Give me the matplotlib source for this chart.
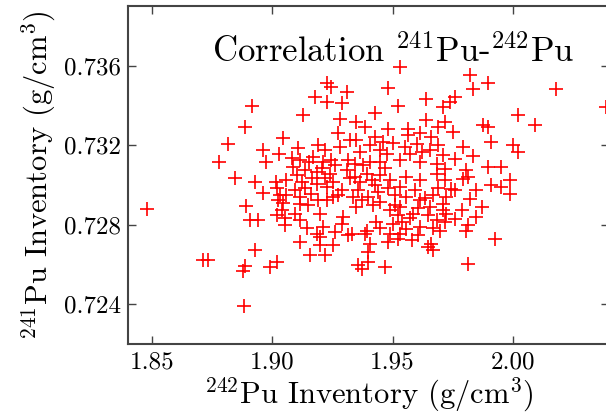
import numpy as np
import matplotlib
matplotlib.use("Agg")
import matplotlib.pyplot as plt
from matplotlib.ticker import FormatStrFormatter

# computer modern look for all text
plt.rcParams["font.family"] = "cmr10"
plt.rcParams["mathtext.fontset"] = "cm"

# sampled inventories (g/cm^3)
pu242 = [
    1.8478, 1.8710, 1.8734, 1.8928, 1.8879, 1.8886, 1.8990, 1.9018, 1.8882, 1.8817,
    1.8778, 1.8845, 1.8890, 1.8907, 1.8941, 1.8928, 1.8962, 1.8960, 1.8973, 1.9029,
    1.9045, 1.9015, 1.9018, 1.9032, 1.9023, 1.9044, 1.9039, 1.9018, 1.9052, 1.9052,
    1.8914, 1.8886,
    1.9533, 1.9226, 1.9246, 1.9177, 1.9309, 1.9226, 1.9288, 1.9482, 1.9523, 1.9426,
    1.9128, 1.9281, 1.9350, 1.9385, 1.9641, 1.9710, 1.9641, 1.9482, 1.9565, 1.9689,
    1.9613,
    1.9821, 1.9835, 1.9897, 2.0181, 1.9759, 1.9738, 2.0022, 2.0091, 1.9876, 1.9897,
    1.9717, 1.9752, 2.0386,
    1.9911, 2.0001, 2.0022, 1.9793, 1.9835, 1.9710, 1.9759, 1.9717, 1.9807, 1.9897,
    1.9953, 1.9793, 1.9814, 1.9987, 1.9911, 1.9953, 1.9745, 1.9759, 1.9849, 1.9987,
    1.9821, 1.9870, 1.9710, 1.9787, 1.9724, 1.9759, 1.9849, 1.9814, 1.9925, 1.9814,
    1.9807,
    1.9115, 1.9156, 1.9198, 1.9198, 1.9219, 1.9253, 1.9315, 1.9385, 1.9406, 1.9398,
    1.9357, 1.9371, 1.9398, 1.9468, 1.9482, 1.9523, 1.9530, 1.9606, 1.9662, 1.9669,
    1.9648,
    1.9274, 1.9350, 1.9426, 1.9461, 1.9565, 1.9600, 1.9662, 1.9191, 1.9281, 1.9364,
    1.9447, 1.9475, 1.9551, 1.9572, 1.9655, 1.9115, 1.9170, 1.9212, 1.9246, 1.9343,
    1.9406, 1.9447, 1.9530, 1.9613, 1.9683, 1.9087, 1.9135, 1.9184, 1.9239, 1.9309,
    1.9343, 1.9392, 1.9447, 1.9489, 1.9558, 1.9613, 1.9683, 1.9717, 1.9059, 1.9122,
    1.9184, 1.9253, 1.9364, 1.9426, 1.9059, 1.9115, 1.9163, 1.9226, 1.9288, 1.9336,
    1.9398, 1.9447, 1.9509, 1.9558, 1.9613, 1.9669, 1.9724, 1.9115, 1.9253, 1.9094,
    1.9198, 1.9295, 1.9350, 1.9419, 1.9489, 1.9530, 1.9585, 1.9655, 1.9710, 1.9115,
    1.9212, 1.9288, 1.9392, 1.9433, 1.9502, 1.9613, 1.9683, 1.9184, 1.9330, 1.9489,
    1.9558, 1.9696,
    1.9081, 1.9102, 1.9135, 1.9152, 1.9165, 1.9189, 1.9206, 1.9227, 1.9260, 1.9273,
    1.9094, 1.9148, 1.9219,
    1.9322, 1.9356, 1.9376, 1.9414, 1.9439, 1.9468, 1.9480, 1.9314, 1.9372,
    1.9509, 1.9530, 1.9572, 1.9593, 1.9634, 1.9647, 1.9688, 1.9717, 1.9539, 1.9605,
    1.9667, 1.9522,
    1.9106, 1.9219, 1.9322, 1.9406, 1.9501, 1.9622, 1.9688,
    1.9144, 1.9260, 1.9447, 1.9580,
]
pu241 = [
    0.72877, 0.72624, 0.72625, 0.72671, 0.72566, 0.72590, 0.72585, 0.72612, 0.72389, 0.73205,
    0.73116, 0.73037, 0.72892, 0.72822, 0.72822, 0.73015, 0.72959, 0.73175, 0.73116, 0.73158,
    0.73234, 0.73015, 0.72983, 0.72948, 0.72923, 0.72908, 0.72872, 0.72847, 0.72832, 0.72797,
    0.73396, 0.73292,
    0.73594, 0.73511, 0.73493, 0.73443, 0.73468, 0.73418, 0.73410, 0.73490, 0.73396, 0.73364,
    0.73351, 0.73334, 0.73317, 0.73292, 0.73430, 0.73393, 0.73326, 0.73284, 0.73284, 0.73292,
    0.73259,
    0.73552, 0.73485, 0.73511, 0.73485, 0.73443, 0.73418, 0.73351, 0.73300, 0.73300, 0.73292,
    0.73317, 0.73267, 0.73393,
    0.73216, 0.73200, 0.73166, 0.73191, 0.73144, 0.73149, 0.73133, 0.73082, 0.73074, 0.73090,
    0.73090, 0.73032, 0.73040, 0.73023, 0.72998, 0.72990, 0.72982, 0.72973, 0.72973, 0.72956,
    0.72931, 0.72889, 0.72906, 0.72872, 0.72856, 0.72830, 0.72838, 0.72797, 0.72730, 0.72604,
    0.72771,
    0.72713, 0.72646, 0.72738, 0.72696, 0.72646, 0.72696, 0.72746, 0.72755, 0.72704, 0.72662,
    0.72595, 0.72579, 0.72612, 0.72587, 0.72713, 0.72730, 0.72755, 0.72746, 0.72704, 0.72671,
    0.72687,
    0.73259, 0.73225, 0.73242, 0.73216, 0.73250, 0.73208, 0.73242, 0.73200, 0.73191, 0.73166,
    0.73175, 0.73158, 0.73191, 0.73158, 0.73175, 0.73124, 0.73141, 0.73116, 0.73124, 0.73108,
    0.73116, 0.73116, 0.73124, 0.73116, 0.73108, 0.73090, 0.73074, 0.73065, 0.73057, 0.73074,
    0.73040, 0.73057, 0.73049, 0.73023, 0.73040, 0.73023, 0.73057, 0.73023, 0.73023, 0.73015,
    0.73007, 0.73015, 0.73015, 0.72998, 0.72948, 0.72939, 0.72956, 0.72923, 0.72973, 0.72939,
    0.72939, 0.72914, 0.72948, 0.72939, 0.72923, 0.72948, 0.72939, 0.72906, 0.72939, 0.72856,
    0.72856, 0.72838, 0.72889, 0.72897, 0.72872, 0.72889, 0.72856, 0.72889, 0.72872, 0.72822,
    0.72788, 0.72805, 0.72771, 0.72813, 0.72805, 0.72788, 0.72822, 0.72755, 0.72755, 0.72755,
    0.72780, 0.72771,
    0.73134, 0.73049, 0.72983, 0.73114, 0.73033, 0.72923, 0.73084, 0.72988, 0.73099, 0.72948,
    0.72973, 0.72897, 0.73033,
    0.73033, 0.72973, 0.73099, 0.73023, 0.72963, 0.73084, 0.72983, 0.73124, 0.72923,
    0.72897, 0.72988, 0.72832, 0.72973, 0.72933, 0.72847, 0.72983, 0.72812, 0.72812, 0.72882,
    0.72782, 0.72847,
    0.73185, 0.73175, 0.73225, 0.73200, 0.73210, 0.73164, 0.73200,
    0.72782, 0.72761, 0.72782, 0.72721,
]

xticks = [1.85, 1.90, 1.95, 2.00]
yticks = [0.724, 0.728, 0.732, 0.736]

fig = plt.figure(figsize=(6.06, 4.16), dpi=100)
ax = fig.add_axes([0.2112, 0.173, 0.7937, 0.8125])

ax.plot(pu242, pu241, "+", color="red", markersize=10.6, markeredgewidth=1.2)

ax.set_xlim(1.84, 2.04)
ax.set_ylim(0.722, 0.739)
ax.set_xticks(xticks)
ax.set_yticks(yticks)
ax.xaxis.set_major_formatter(FormatStrFormatter("%.2f"))
ax.yaxis.set_major_formatter(FormatStrFormatter("%.3f"))
ax.tick_params(direction="in", top=True, right=True, length=6, width=1.0,
               color="#444444", labelsize=18, pad=5)
for s in ax.spines.values():
    s.set_linewidth(1.5)
    s.set_color("#444444")

ax.set_xlabel(r"$^{242}$Pu Inventory (g/cm$^3$)", fontsize=22, labelpad=2)
ax.set_ylabel(r"$^{241}$Pu Inventory (g/cm$^3$)", fontsize=22, labelpad=4)
ax.text(0.551, 0.834, r"Correlation $^{241}$Pu-$^{242}$Pu", transform=ax.transAxes,
        ha="center", va="baseline", fontsize=25)

fig.savefig("out.png", dpi=100)
